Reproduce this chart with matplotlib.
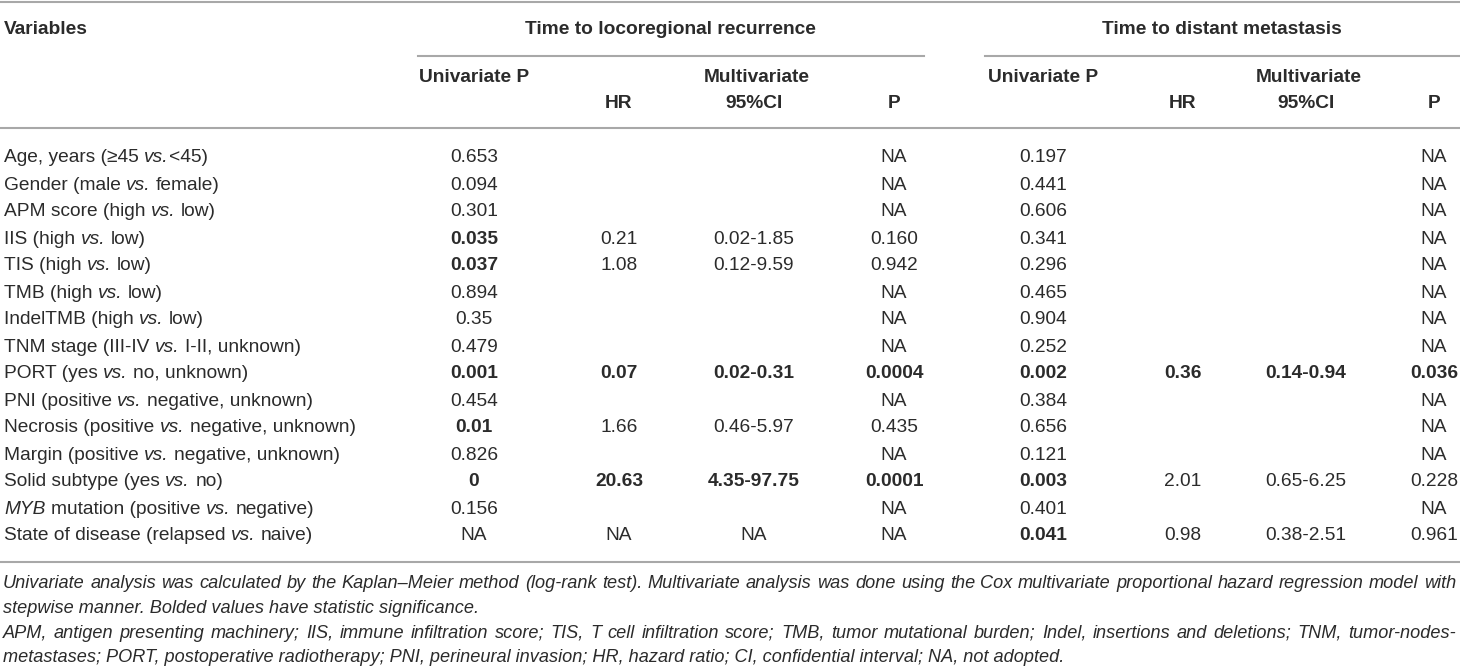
import matplotlib.pyplot as plt

plt.rcParams['font.family'] = ['Liberation Sans', 'DejaVu Sans']

# ---- table data ----
variables = [
    'Age, years (\u226545 *vs.*<45)',
    'Gender (male *vs.* female)',
    'APM score (high *vs.* low)',
    'IIS (high *vs.* low)',
    'TIS (high *vs.* low)',
    'TMB (high *vs.* low)',
    'IndelTMB (high *vs.* low)',
    'TNM stage (III-IV *vs.* I-II, unknown)',
    'PORT (yes *vs.* no, unknown)',
    'PNI (positive *vs.* negative, unknown)',
    'Necrosis (positive *vs.* negative, unknown)',
    'Margin (positive *vs.* negative, unknown)',
    'Solid subtype (yes *vs.* no)',
    '*MYB* mutation (positive *vs.* negative)',
    'State of disease (relapsed *vs.* naive)',
]

loco_uni_p = ['0.653', '0.094', '0.301', '0.035', '0.037', '0.894', '0.35', '0.479',
              '0.001', '0.454', '0.01', '0.826', '0', '0.156', 'NA']
loco_hr = ['', '', '', '0.21', '1.08', '', '', '', '0.07', '', '1.66', '', '20.63', '', 'NA']
loco_ci = ['', '', '', '0.02-1.85', '0.12-9.59', '', '', '', '0.02-0.31', '',
           '0.46-5.97', '', '4.35-97.75', '', 'NA']
loco_p = ['NA', 'NA', 'NA', '0.160', '0.942', 'NA', 'NA', 'NA', '0.0004', 'NA',
          '0.435', 'NA', '0.0001', 'NA', 'NA']

dist_uni_p = ['0.197', '0.441', '0.606', '0.341', '0.296', '0.465', '0.904', '0.252',
              '0.002', '0.384', '0.656', '0.121', '0.003', '0.401', '0.041']
dist_hr = ['', '', '', '', '', '', '', '', '0.36', '', '', '', '2.01', '', '0.98']
dist_ci = ['', '', '', '', '', '', '', '', '0.14-0.94', '', '', '', '0.65-6.25', '',
           '0.38-2.51']
dist_p = ['NA', 'NA', 'NA', 'NA', 'NA', 'NA', 'NA', 'NA', '0.036', 'NA', 'NA', 'NA',
          '0.228', 'NA', '0.961']

# rows printed in bold (significant)
loco_uni_bold = [3, 4, 8, 10, 12]
loco_multi_bold = [8, 12]
dist_uni_bold = [8, 12, 14]
dist_multi_bold = [8]

footnote_lines = [
    ('Univariate analysis was calculated by the Kaplan\u2013Meier method (log-rank test). '
     'Multivariate analysis was done using the Cox multivariate proportional hazard '
     'regression model with', True),
    ('stepwise manner. Bolded values have statistic significance.', False),
    ('APM, antigen presenting machinery; IIS, immune infiltration score; TIS, T cell '
     'infiltration score; TMB, tumor mutational burden; Indel, insertions and deletions; '
     'TNM, tumor-nodes-', True),
    ('metastases; PORT, postoperative radiotherapy; PNI, perineural invasion; HR, hazard '
     'ratio; CI, confidential interval; NA, not adopted.', False),
]

# ---- layout ----
W, H = 1460, 671
FS = 13.8
FOOT_FS = 13.1
TXT = '#2b2b2b'
LINE = '#a8a8a8'

fig = plt.figure(figsize=(W / 100, H / 100), dpi=100)
ax = fig.add_axes([0, 0, 1, 1])
ax.set_xlim(0, W)
ax.set_ylim(H, 0)
ax.axis('off')
renderer = fig.canvas.get_renderer()


def text_width(s, **kw):
    t = ax.text(0, 0, s, **kw)
    w = t.get_window_extent(renderer).width
    t.remove()
    return w


def seg_width(s, **kw):
    # width of a piece, counting leading/trailing spaces
    sp = text_width('x x', **kw) - text_width('xx', **kw)
    core = s.strip(' ')
    n_sp = len(s) - len(core)
    return (text_width(core, **kw) if core else 0) + n_sp * sp


def draw_mixed(x, y, label, size):
    parts = label.split('*')
    for i, part in enumerate(parts):
        if not part:
            continue
        style = 'italic' if i % 2 == 1 else 'normal'
        lead = len(part) - len(part.lstrip(' '))
        if lead:
            x += seg_width(' ' * lead, fontsize=size, style=style)
        ax.text(x, y, part.strip(' '), fontsize=size, style=style, color=TXT,
                ha='left', va='center')
        x += seg_width(part.lstrip(' '), fontsize=size, style=style)


def draw_justified(x0, x1, y, line, size):
    words = line.split(' ')
    widths = [text_width(w, fontsize=size, style='italic') for w in words]
    gap = (x1 - x0 - sum(widths)) / (len(words) - 1)
    x = x0
    for w, wd in zip(words, widths):
        ax.text(x, y, w, fontsize=size, style='italic', color=TXT, ha='left', va='center')
        x += wd + gap


# rules
ax.plot([0, W], [2, 2], color=LINE, lw=1.5)
ax.plot([418, 924], [56, 56], color=LINE, lw=1.5)
ax.plot([985, W], [56, 56], color=LINE, lw=1.5)
ax.plot([0, W], [128, 128], color=LINE, lw=1.5)
ax.plot([0, W], [562, 562], color=LINE, lw=1.5)

# headers
hdr = dict(fontsize=FS, fontweight='bold', color=TXT, va='center')
ax.text(4, 29, 'Variables', ha='left', **hdr)
ax.text(670, 29, 'Time to locoregional recurrence', ha='center', **hdr)
ax.text(1222, 29, 'Time to distant metastasis', ha='center', **hdr)

loco_x = [474, 619, 754, 894]
dist_x = [1043, 1183, 1306, 1434]
for xs in (loco_x, dist_x):
    ax.text(xs[0], 77, 'Univariate P', ha='center', **hdr)
    ax.text((xs[1] + xs[3]) / 2, 77, 'Multivariate', ha='center', **hdr)
    ax.text(xs[1], 104, 'HR', ha='center', **hdr)
    ax.text(xs[2], 104, '95%CI', ha='center', **hdr)
    ax.text(xs[3], 104, 'P', ha='center', **hdr)

# body
row_y0, row_dy = 158, 27
groups = [
    (loco_x, [loco_uni_p, loco_hr, loco_ci, loco_p], loco_uni_bold, loco_multi_bold),
    (dist_x, [dist_uni_p, dist_hr, dist_ci, dist_p], dist_uni_bold, dist_multi_bold),
]
for i, label in enumerate(variables):
    y = row_y0 + i * row_dy
    draw_mixed(4, y, label, FS)
    for xs, cols, uni_bold, multi_bold in groups:
        for j, (x, col) in enumerate(zip(xs, cols)):
            bold = (i in uni_bold) if j == 0 else (i in multi_bold)
            if col[i]:
                ax.text(x, y, col[i], fontsize=FS, color=TXT, ha='center', va='center',
                        fontweight='bold' if bold else 'normal')

# footnotes
for k, (line, justify) in enumerate(footnote_lines):
    y = 584 + k * 24.5
    if justify:
        draw_justified(3, 1456, y, line, FOOT_FS)
    else:
        ax.text(3, y, line, fontsize=FOOT_FS, style='italic', color=TXT,
                ha='left', va='center')

fig.savefig('out.png', dpi=100)
